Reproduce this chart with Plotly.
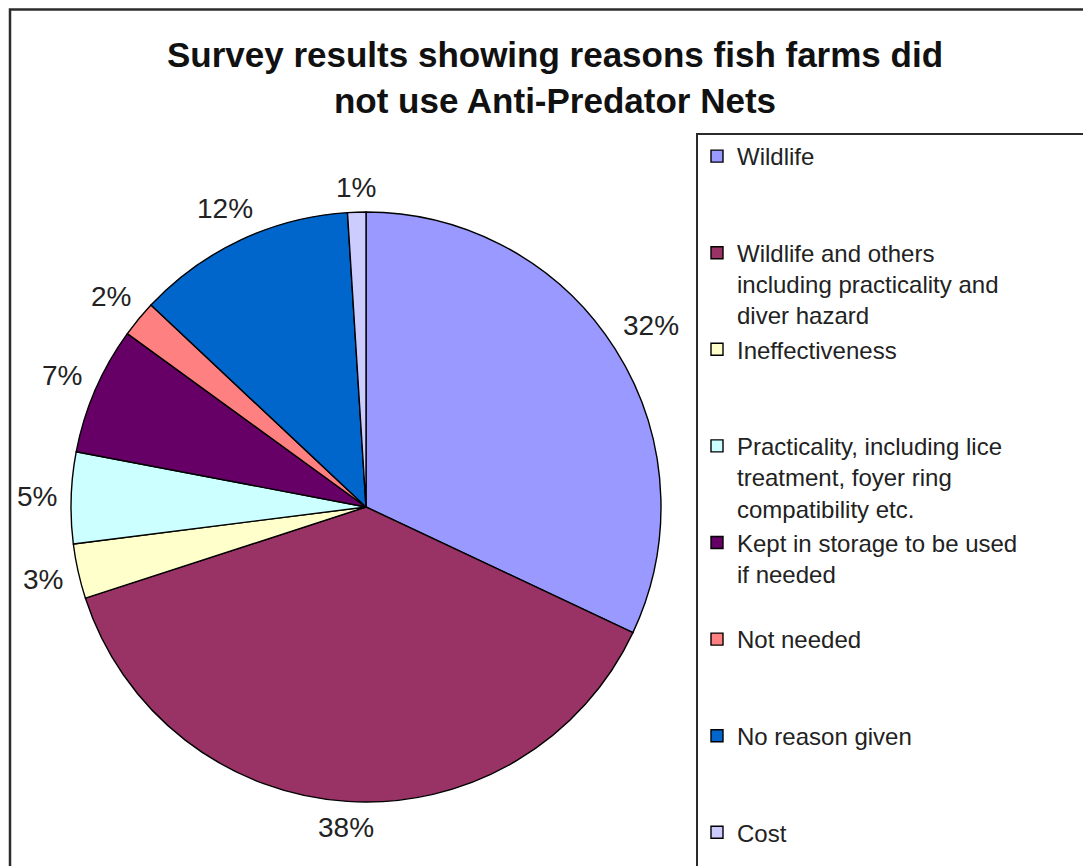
import math
import plotly.graph_objects as go

# ---- data ----
categories = [
    "Wildlife",
    "Wildlife and others including practicality and diver hazard",
    "Ineffectiveness",
    "Practicality, including lice treatment, foyer ring compatibility etc.",
    "Kept in storage to be used if needed",
    "Not needed",
    "No reason given",
    "Cost",
]
legend_lines = [
    ["Wildlife"],
    ["Wildlife and others", "including practicality and", "diver hazard"],
    ["Ineffectiveness"],
    ["Practicality, including lice", "treatment, foyer ring", "compatibility etc."],
    ["Kept in storage to be used", "if needed"],
    ["Not needed"],
    ["No reason given"],
    ["Cost"],
]
values = [32, 38, 3, 5, 7, 2, 12, 1]
colors = ["#9999FF", "#993366", "#FFFFCC", "#CCFFFF", "#660066", "#FF8080", "#0066CC", "#CCCCFF"]
title_text = "Survey results showing reasons fish farms did<br>not use Anti-Predator Nets"

# ---- layout geometry (pixel targets in page coords, minus 8px body margin) ----
W, H = 1091, 866
OFF = 8
cx, cy, R = 366 - OFF, 507 - OFF, 295
dom_x = [(cx - R) / W, (cx + R) / W]
dom_y = [(H - cy - R) / H, (H - cy + R) / H]
FONT = "Arial, Liberation Sans, sans-serif"
LEG_FS = 24
LBL_FS = 28

# legend text padded to three lines so items are evenly spaced
leg_text = []
for i, lines in enumerate(legend_lines):
    ls = list(lines)
    if i < len(legend_lines) - 1:
        while len(ls) < 3:
            ls.append("&nbsp;")
    leg_text.append("<br>".join(ls))

fig = go.Figure()
fig.add_trace(go.Pie(
    labels=leg_text,
    values=values,
    sort=False,
    direction="clockwise",
    rotation=0,
    marker=dict(colors=colors, line=dict(color="#000000", width=1.4)),
    textinfo="none",
    hovertext=categories,
    hoverinfo="text+percent",
    domain=dict(x=dom_x, y=dom_y),
    showlegend=True,
))

# percentage labels outside each slice, placed on the slice mid-angle
total = sum(values)
cum = 0
annotations = []
for v in values:
    mid = (cum + v / 2) / total * 2 * math.pi
    cum += v
    txt = f"{round(v / total * 100)}%"
    ndig = len(txt) - 1
    w = (0.556 * ndig + 0.889) * LBL_FS
    h = 0.72 * LBL_FS
    s, c = math.sin(mid), math.cos(mid)
    r = R + 14 + (w / 2) * abs(s) + (h / 2) * abs(c)
    px = cx + r * s
    py = cy - r * c
    annotations.append(dict(
        x=px / W, y=1 - py / H, xref="paper", yref="paper",
        text=txt, showarrow=False, xanchor="center", yanchor="middle",
        font=dict(family=FONT, size=LBL_FS, color="#222222"),
    ))

shapes = [
    # outer chart border (cropped at right/bottom like the reference)
    dict(type="rect", xref="paper", yref="paper",
         x0=(10 - OFF) / W, x1=1.02, y0=-0.02, y1=1 - 1.5 / H,
         line=dict(color="#2b2b2b", width=2.5), fillcolor="rgba(0,0,0,0)", layer="above"),
    # legend box border
    dict(type="rect", xref="paper", yref="paper",
         x0=(697 - OFF) / W, x1=1.02, y0=-0.02, y1=1 - (134 - OFF) / H,
         line=dict(color="#2b2b2b", width=2), fillcolor="rgba(0,0,0,0)", layer="above"),
]

fig.update_layout(
    width=W, height=H,
    margin=dict(l=0, r=0, t=0, b=0),
    paper_bgcolor="white", plot_bgcolor="white",
    title=dict(
        text=f"<b>{title_text}</b>",
        x=(555 - OFF) / W, xanchor="center", xref="paper",
        y=1 - (67 - OFF) / H, yanchor="top", yref="container",
        font=dict(family=FONT, size=35, color="#111111"),
    ),
    legend=dict(
        x=(697 - OFF) / W, xanchor="left", y=1 - (134 - OFF) / H, yanchor="top",
        font=dict(family=FONT, size=LEG_FS, color="#222222"),
        valign="top", bgcolor="rgba(0,0,0,0)", borderwidth=0,
        traceorder="normal",
    ),
    annotations=annotations,
    shapes=shapes,
)

fig.write_html("out.html")
